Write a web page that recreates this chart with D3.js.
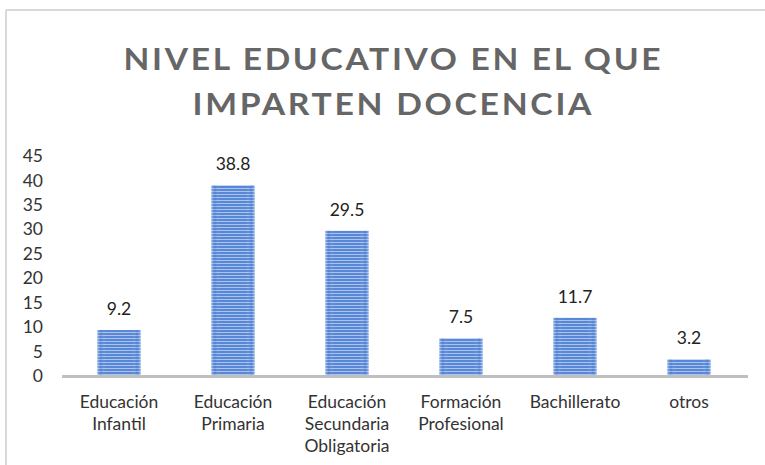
<!DOCTYPE html>
<html><head><meta charset="utf-8">
<script src="https://cdn.jsdelivr.net/npm/d3@7"></script>
<style>
body{margin:0;background:#fff;}
svg{display:block;font-family:Lato,"Open Sans",sans-serif;}
</style></head>
<body>
<svg id="c" width="765" height="465"></svg>
<script>
const categories = [["Educación","Infantil"],["Educación","Primaria"],["Educación","Secundaria","Obligatoria"],["Formación","Profesional"],["Bachillerato"],["otros"]];
const values = [9.2, 38.8, 29.5, 7.5, 11.7, 3.2];
const yTicks = [0,5,10,15,20,25,30,35,40,45];
const titleLines = ["NIVEL EDUCATIVO EN EL QUE","IMPARTEN DOCENCIA"];

const svg = d3.select("#c");
const W = 765, H = 465;
svg.append("rect").attr("width",W).attr("height",H).attr("fill","#fff");
// frame
svg.append("line").attr("x1",6).attr("x2",W).attr("y1",10).attr("y2",10).attr("stroke","#d9d9d9").attr("stroke-width",2);
svg.append("line").attr("x1",6).attr("x2",6).attr("y1",10).attr("y2",H).attr("stroke","#d9d9d9").attr("stroke-width",2);

const defs = svg.append("defs");
const pat = defs.append("pattern").attr("id","stripes").attr("patternUnits","userSpaceOnUse").attr("width",10).attr("height",3);
pat.append("rect").attr("width",10).attr("height",3).attr("fill","#5887d6");
pat.append("rect").attr("y",2).attr("width",10).attr("height",1).attr("fill","#a9c3ee");
const grad = defs.append("linearGradient").attr("id","edge").attr("x1","0").attr("x2","1").attr("y1","0").attr("y2","0");
grad.append("stop").attr("offset","0").attr("stop-color","#ffffff").attr("stop-opacity",0.35);
grad.append("stop").attr("offset","0.08").attr("stop-color","#3a6fc4").attr("stop-opacity",0.25);
grad.append("stop").attr("offset","0.2").attr("stop-color","#ffffff").attr("stop-opacity",0);
grad.append("stop").attr("offset","0.8").attr("stop-color","#ffffff").attr("stop-opacity",0);
grad.append("stop").attr("offset","0.92").attr("stop-color","#3a6fc4").attr("stop-opacity",0.25);
grad.append("stop").attr("offset","1").attr("stop-color","#ffffff").attr("stop-opacity",0.35);

// title
const title = svg.append("g");
const titleY = [70, 115];
const titleW = [540, 402];
titleLines.forEach((t,i)=>{
  const el = title.append("text").attr("x",0).attr("y",titleY[i]).attr("text-anchor","middle")
    .attr("font-size",31).attr("font-weight","bold").attr("fill","#666666")
    .attr("letter-spacing",2.5).text(t);
  const w = el.node().getComputedTextLength();
  const sx = titleW[i]/w;
  el.attr("transform",`translate(${392+1.25*sx},0) scale(${sx},1)`);
});

const x = d3.scaleBand().domain(d3.range(values.length)).range([62,746]).paddingInner(0.62).paddingOuter(0.31);
const y = d3.scaleLinear().domain([0,45]).range([375,155]);

// bars
const bars = svg.append("g");
bars.selectAll("rect.b").data(values).join("rect").attr("class","b")
  .attr("x",(d,i)=>x(i)).attr("width",x.bandwidth())
  .attr("y",d=>y(d)).attr("height",d=>y(0)-y(d)).attr("fill","url(#stripes)");
bars.selectAll("rect.e").data(values).join("rect").attr("class","e")
  .attr("x",(d,i)=>x(i)).attr("width",x.bandwidth())
  .attr("y",d=>y(d)).attr("height",d=>y(0)-y(d)).attr("fill","url(#edge)");

// x axis line
svg.append("line").attr("x1",62).attr("x2",748).attr("y1",y(0)+1.5).attr("y2",y(0)+1.5).attr("stroke","#bfbfbf").attr("stroke-width",3);

// y axis
const yAxis = d3.axisLeft(y).tickValues(yTicks).tickSize(0).tickPadding(0);
const ya = svg.append("g").attr("transform","translate(43,0)").call(yAxis);
ya.select(".domain").remove();
ya.selectAll("text").attr("font-size",17.5).attr("fill","#333").attr("font-family","Lato,sans-serif").attr("dy","0.38em");

// value labels
svg.append("g").selectAll("text").data(values).join("text")
  .attr("x",(d,i)=>x(i)+x.bandwidth()/2).attr("y",d=>y(d)-15)
  .attr("text-anchor","middle").attr("font-size",17.5).attr("fill","#222").text(d=>d.toFixed(1));

// category labels
const cl = svg.append("g");
categories.forEach((lines,i)=>{
  const t = cl.append("text").attr("text-anchor","middle").attr("font-size",17.5).attr("fill","#333");
  lines.forEach((ln,j)=>{
    t.append("tspan").attr("x",x(i)+x.bandwidth()/2).attr("y",408+j*22).text(ln);
  });
});
</script>
</body></html>
